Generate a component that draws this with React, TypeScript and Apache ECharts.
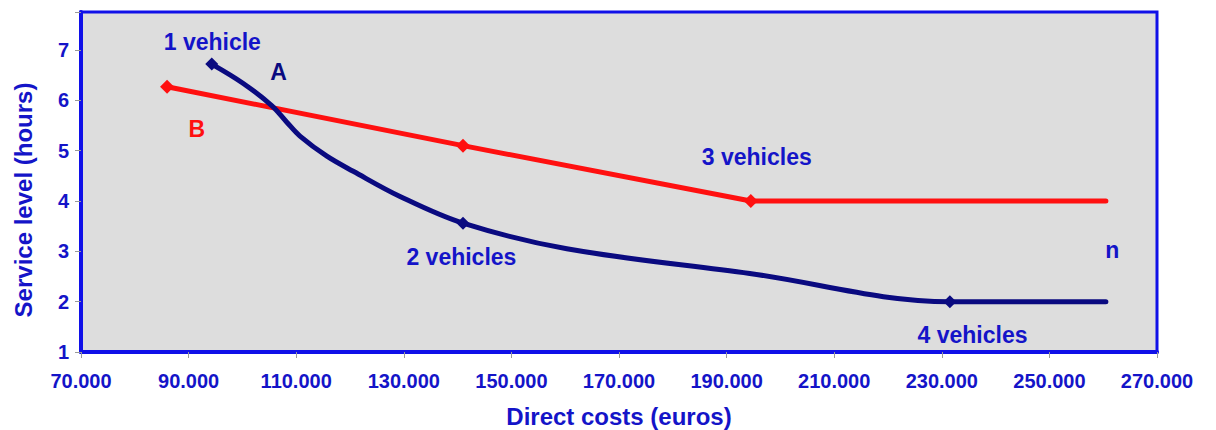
import React, { useEffect, useRef } from "react";
import * as echarts from "echarts";

// Option A: one vehicle type, fleet grows from 1 to 4 vehicles (curved cost/service trade-off)
const costsA = [94300, 100100, 105500, 108300, 110700, 115700, 120600, 129300, 141000, 160300, 194300, 231500, 260500];
const hoursA = [6.72, 6.34, 5.89, 5.56, 5.29, 4.89, 4.59, 4.09, 3.56, 3.05, 2.56, 2.0, 2.0];
const markedA = [0, 8, 11];

// Option B: straight segments between fleet sizes
const costsB = [86000, 141000, 194500, 260500];
const hoursB = [6.27, 5.1, 4.0, 4.0];
const markedB = [0, 1, 2];

const xTicks = [70000, 90000, 110000, 130000, 150000, 170000, 190000, 210000, 230000, 250000, 270000];
const yTicks = [1, 2, 3, 4, 5, 6, 7];

// Text annotations placed in data coordinates
const noteText = ["1 vehicle", "A", "B", "2 vehicles", "3 vehicles", "4 vehicles", "n"];
const noteCost = [94500, 106800, 91600, 140800, 195700, 235800, 261800];
const noteHours = [7.14, 6.56, 5.43, 2.88, 4.87, 1.33, 3.02];
const noteKind = ["count", "a", "b", "count", "count", "count", "count"];

const NAVY = "#0a0a80";
const RED = "#ff1010";
const BLUE = "#1414c8";
const FONT = "'Liberation Sans', Arial, sans-serif";

const fmtThousands = (v: number) =>
  String(Math.round(v)).replace(/\B(?=(\d{3})+(?!\d))/g, ".");

export default function App() {
  const ref = useRef<HTMLDivElement>(null);

  useEffect(() => {
    if (!ref.current) return;
    const chart = echarts.init(ref.current, undefined, { renderer: "svg" });

    const lineData = (xs: number[], ys: number[], marked: number[]) =>
      xs.map((x, i) => ({
        value: [x, ys[i]],
        symbol: marked.includes(i) ? "diamond" : "none",
      }));

    const noteColor = (k: string) => (k === "a" ? NAVY : k === "b" ? RED : BLUE);

    chart.setOption({
      animation: false,
      backgroundColor: "#ffffff",
      grid: {
        left: 81,
        right: 59,
        top: 12,
        bottom: 78,
        containLabel: false,
        outerBoundsMode: "none",
        show: true,
        backgroundColor: "#dddddd",
        borderColor: "#1010e8",
        borderWidth: 3,
      },
      // Vertical axis title, centred on the 1–7 tick range
      graphic: [
        {
          type: "text",
          x: 23,
          y: 200,
          rotation: Math.PI / 2,
          style: {
            text: "Service level (hours)",
            align: "center",
            verticalAlign: "middle",
            fill: BLUE,
            fontSize: 24,
            fontWeight: "bold",
            fontFamily: FONT,
          },
        },
      ],
      xAxis: {
        type: "value",
        min: xTicks[0],
        max: xTicks[xTicks.length - 1],
        interval: xTicks[1] - xTicks[0],
        name: "Direct costs (euros)",
        nameLocation: "middle",
        nameGap: 52,
        nameMoveOverlap: false,
        nameTextStyle: { color: BLUE, fontSize: 24, fontWeight: "bold", fontFamily: FONT },
        axisLine: { show: true, lineStyle: { color: "#1010e8", width: 4 } },
        axisTick: { show: true, length: 6, lineStyle: { color: "#999999", width: 1 } },
        axisLabel: {
          color: BLUE,
          fontSize: 20,
          fontWeight: "bold",
          fontFamily: FONT,
          margin: 19,
          formatter: (v: number) => fmtThousands(v),
        },
        splitLine: { show: false },
      },
      yAxis: {
        type: "value",
        min: yTicks[0],
        max: 7.755,
        interval: 1,
        axisLine: { show: true, lineStyle: { color: "#1010e8", width: 4 } },
        axisTick: { show: true, length: 6, lineStyle: { color: "#999999", width: 1 } },
        axisLabel: {
          color: BLUE,
          fontSize: 20,
          fontWeight: "bold",
          fontFamily: FONT,
          margin: 12,
          formatter: (v: number) => (yTicks.includes(v) ? String(v) : ""),
        },
        splitLine: { show: false },
      },
      series: [
        {
          type: "line",
          data: lineData(costsB, hoursB, markedB),
          smooth: false,
          symbolSize: 14,
          showSymbol: true,
          lineStyle: { color: RED, width: 5, cap: "round", join: "round" },
          itemStyle: { color: RED },
          z: 3,
        },
        {
          type: "line",
          data: lineData(costsA, hoursA, markedA),
          smooth: 0.35,
          symbolSize: 13,
          showSymbol: true,
          lineStyle: { color: NAVY, width: 5, cap: "round", join: "round" },
          itemStyle: { color: NAVY },
          z: 4,
        },
        {
          type: "scatter",
          symbol: "circle",
          symbolSize: 1,
          itemStyle: { color: "rgba(0,0,0,0)" },
          silent: true,
          z: 5,
          data: noteText.map((t, i) => ({
            value: [noteCost[i], noteHours[i]],
            label: {
              show: true,
              position: [0, 0],
              align: "center",
              verticalAlign: "middle",
              formatter: t,
              color: noteColor(noteKind[i]),
              opacity: 1,
              textBorderWidth: 0,
              fontSize: 23,
              fontWeight: "bold",
              fontFamily: FONT,
            },
          })),
        },
      ],
    });

    return () => chart.dispose();
  }, []);

  return (
    <div
      ref={ref}
      style={{ position: "absolute", left: 0, top: 0, width: 1216, height: 430 }}
    />
  );
}
